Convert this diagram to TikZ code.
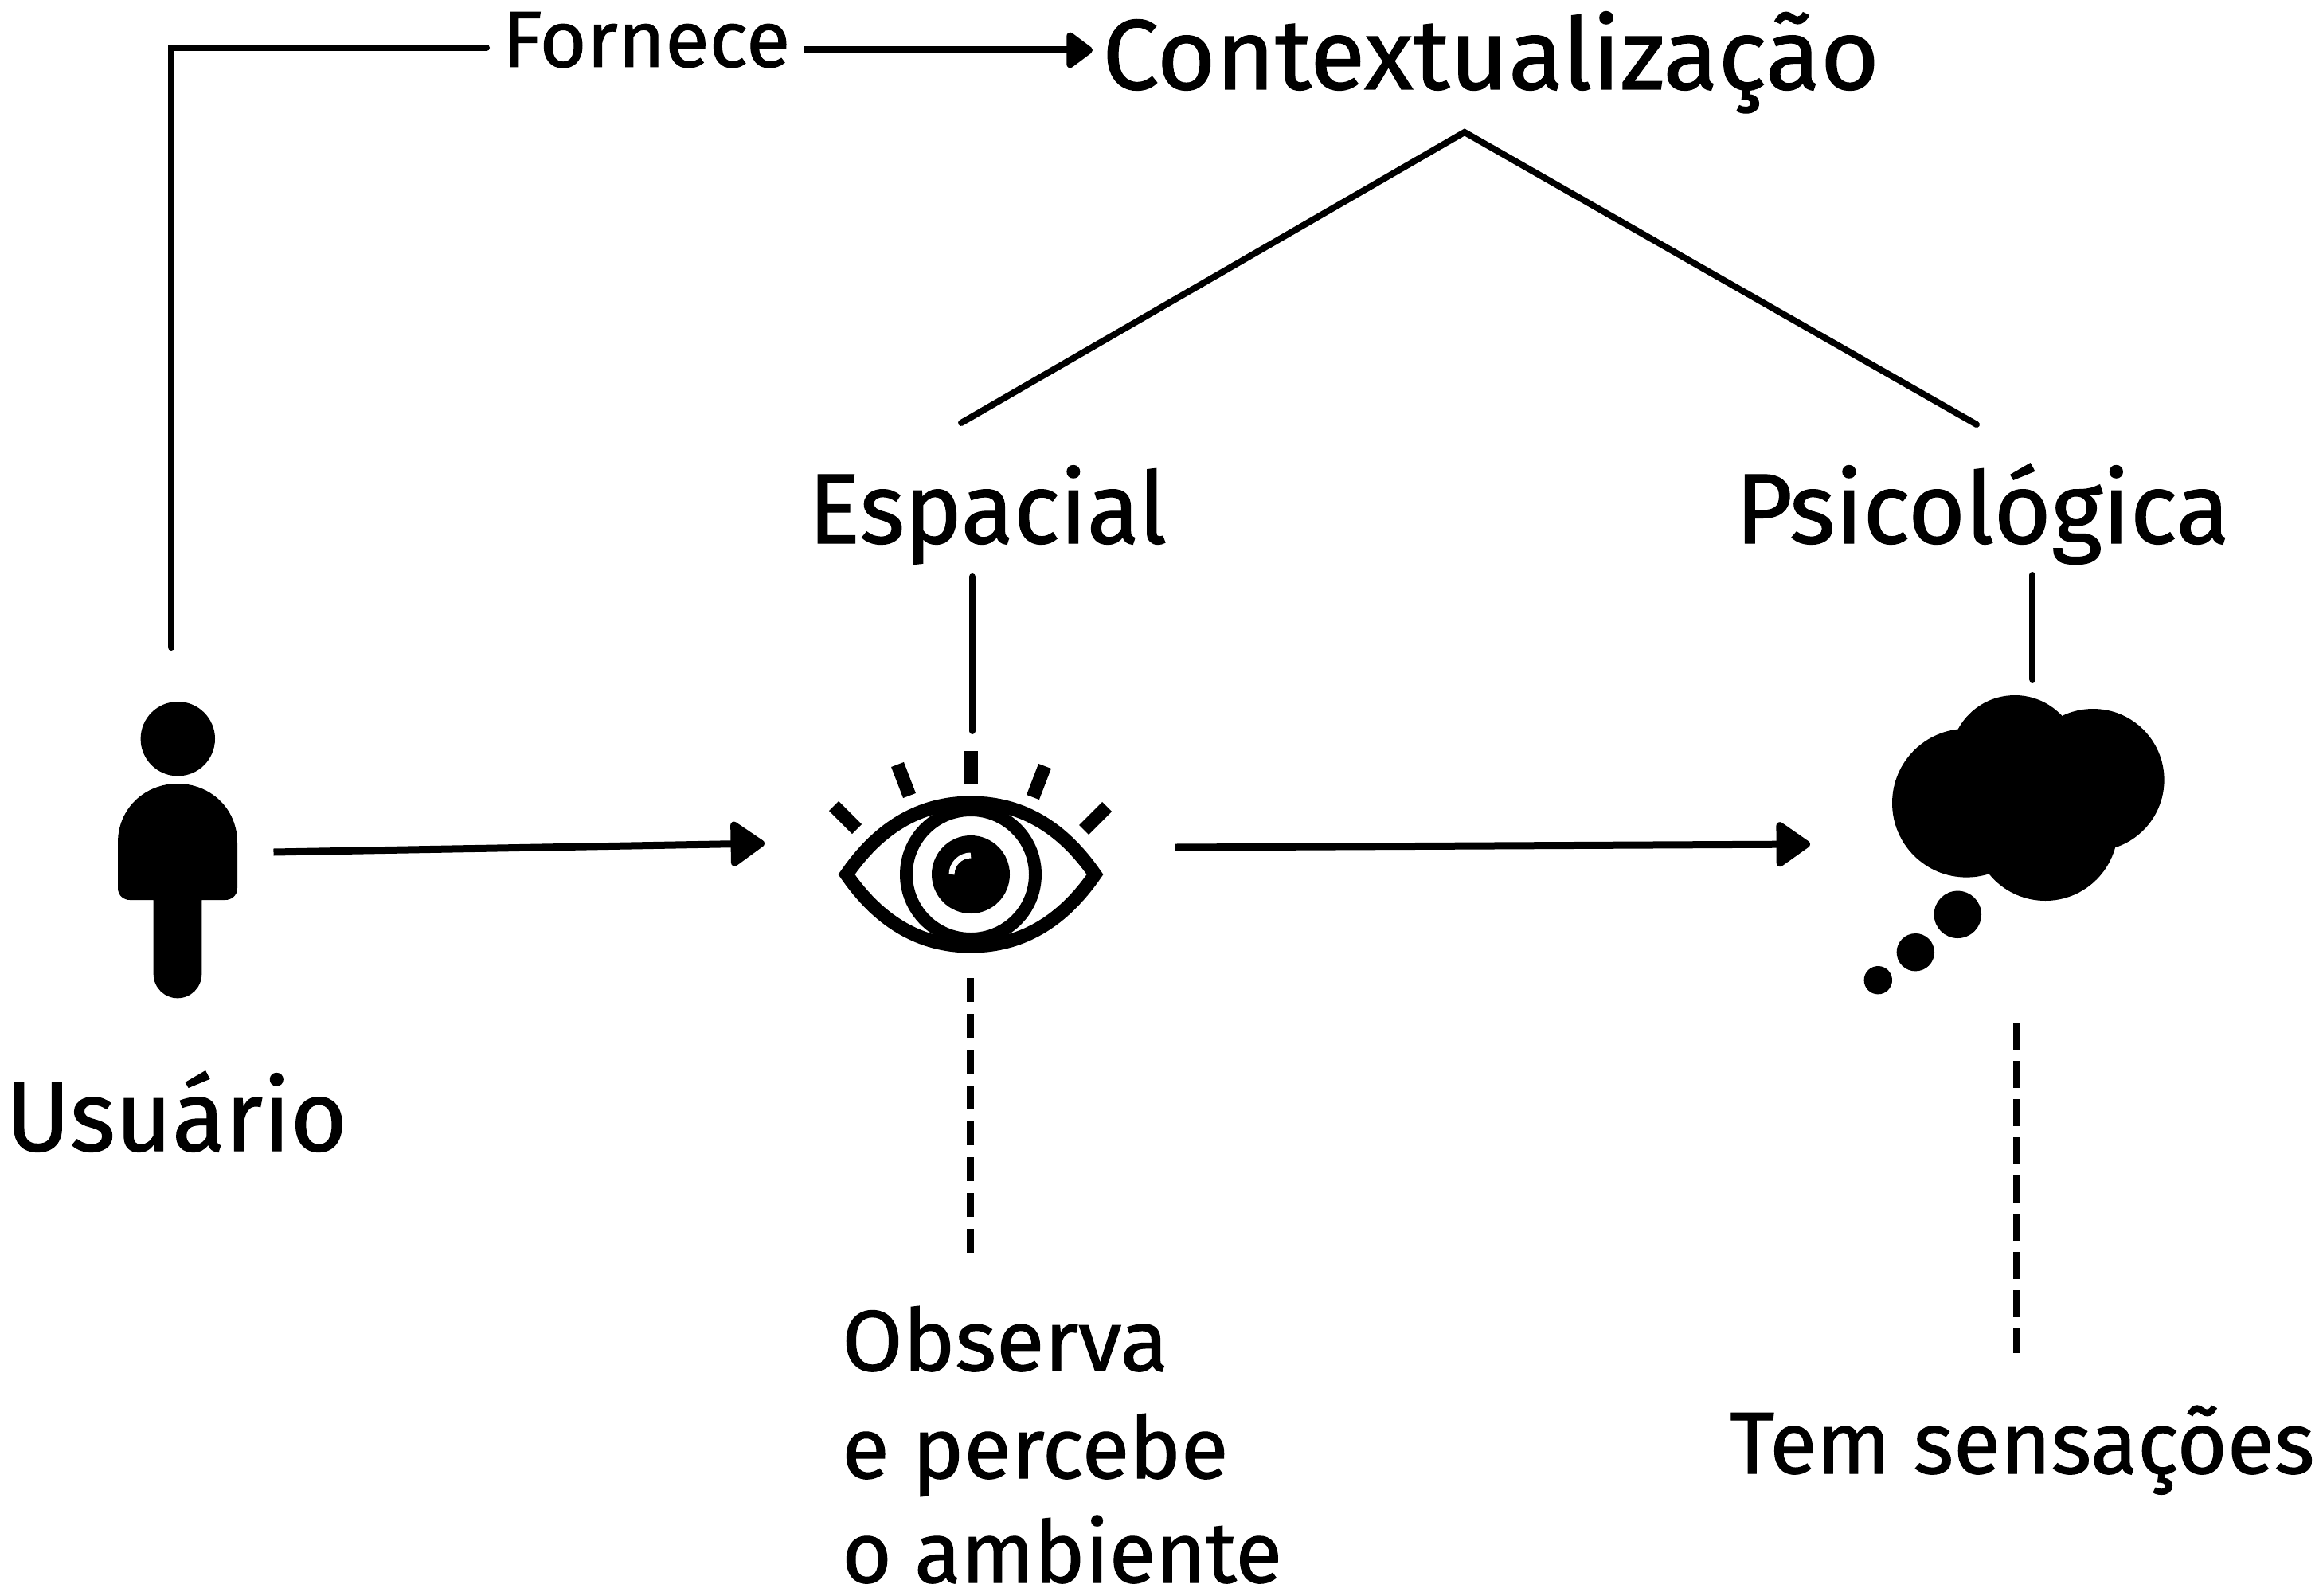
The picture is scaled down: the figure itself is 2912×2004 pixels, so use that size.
\documentclass[tikz,border=0pt]{standalone}
\usepackage{fontspec}
\setmainfont{Fira Sans}[FakeBold=1]
\usetikzlibrary{arrows.meta}
\tikzset{
  lab/.style={font=\fontsize{#1}{#1}\selectfont, inner sep=0pt, anchor=base west, transform shape},
  lin/.style={line width=8pt, line cap=round},
  flow/.style args={#1 and #2}{line width=9pt, -{Triangle[round,length=#1pt,width=#2pt]}},
  dashline/.style={line width=9pt, dash pattern=#1},
  lash/.style={line width=17pt},
  iconbox/.style={inner sep=0pt, outer sep=0pt}
}
\begin{document}
\begin{tikzpicture}[x=1pt,y=-1pt]
  \useasboundingbox (0,0) rectangle (2912,2004);

  % labels
  \node[lab=125,xscale=1.015] (contexto) at (1384,112) {Contextualização};
  \node[lab=100,xscale=1.014] (fornece) at (631,84) {Fornece};
  \node[lab=125,xscale=0.97] (espacial) at (1015,682) {Espacial};
  \node[lab=125,xscale=0.988] (psico) at (2179,682) {Psicológica};
  \node[lab=125,xscale=0.98] (usuario) at (7,1445) {Usuário};
  \node[lab=108,xscale=1.024] (obs1) at (1057,1721) {Observa};
  \node[lab=108,xscale=1.01] (obs2) at (1057,1856) {e percebe};
  \node[lab=108,xscale=0.994] (obs3) at (1057,1987) {o ambiente};
  \node[lab=110,xscale=0.984] (tem) at (2172,1850) {Tem sensações};

  % invisible boxes round the icons
  \node[iconbox,minimum width=257pt,minimum height=514pt] (user) at (215,1070) {};
  \node[iconbox,minimum width=516pt,minimum height=310pt] (eye) at (1218,1073) {};
  \node[iconbox,minimum width=518pt,minimum height=431pt] (cloud) at (2532,1068.5) {};
  \coordinate (apex) at (1839,166);
  \coordinate (corner) at (215,60);
  \coordinate (obsgap) at ([yshift=148pt]obs1.base);
  \coordinate (temgap) at ([yshift=151pt]tem.base);

  % person
  \fill (223.3,927.7) circle[radius=46.7pt];
  \fill (148,1115) -- (148,1058) .. controls (148,1015) and (182,984) .. (223,984)
    .. controls (264,984) and (298,1015) .. (298,1058) -- (298,1115)
    .. controls (298,1125) and (290,1130) .. (283,1130) -- (253.3,1130) -- (253.3,1223)
    arc[start angle=0,end angle=-180,radius=30.3pt] -- (192.7,1130) -- (163,1130)
    .. controls (156,1130) and (148,1125) .. (148,1115) -- cycle;

  % eye
  \draw[line width=17pt] (1063,1098) .. controls (1110,1030) and (1165,1008) .. (1219,1008)
    .. controls (1273,1008) and (1328,1030) .. (1375,1098)
    .. controls (1328,1166) and (1273,1188) .. (1219,1188)
    .. controls (1165,1188) and (1110,1166) .. (1063,1098) -- cycle;
  \draw[line width=16pt] (1219,1098) circle[radius=81pt];
  \fill (1219,1098) circle[radius=49pt];
  \draw[white,line width=7pt] (1195,1098) arc[start angle=180,end angle=90,radius=24pt];
  \draw[lash] (1219,943) -- (1219,984);
  \draw[lash] (1127,960) -- (1142,999);
  \draw[lash] (1312,962) -- (1297,1001);
  \draw[lash] (1047,1012) -- (1076,1041);
  \draw[lash] (1390,1013) -- (1361,1042);

  % cloud
  \fill (2469.3,1008.3) circle[radius=93.3pt];
  \fill (2530,954) circle[radius=81pt];
  \fill (2628.3,979.3) circle[radius=89.3pt];
  \fill (2568.3,1040) circle[radius=91pt];
  \fill (2458.3,1148.3) circle[radius=29.7pt];
  \fill (2405.3,1195.7) circle[radius=23.7pt];
  \fill (2358.3,1230.7) circle[radius=17.7pt];

  % connectors
  \draw[lin] (user.north) -- (corner) -- ([xshift=-20pt,yshift=24pt]fornece.base west);
  \draw[flow=36 and 51] ([xshift=378pt,yshift=21pt]fornece.base west) -- ([xshift=-12pt,yshift=49pt]contexto.base west);
  \draw[lin] ([shift={(192,-151)}]espacial.base west) -- (apex) -- ([shift={(303,-149)}]psico.base west);
  \draw[lin] ([shift={(206,42)}]espacial.base west) -- ([xshift=3pt]eye.north);
  \draw[lin] ([shift={(373,40)}]psico.base west) -- ([xshift=20pt]cloud.north);
  \draw[flow=46 and 62] (user.east) -- ([yshift=14pt]eye.west);
  \draw[flow=46 and 62] ([yshift=9pt]eye.east) -- ([yshift=8.5pt]cloud.west);
  \draw[dashline=on 30pt off 15pt] (eye.south) -- (eye.south |- obsgap);
  \draw[dashline=on 34pt off 14pt] (cloud.south) -- (cloud.south |- temgap);
\end{tikzpicture}
\end{document}
